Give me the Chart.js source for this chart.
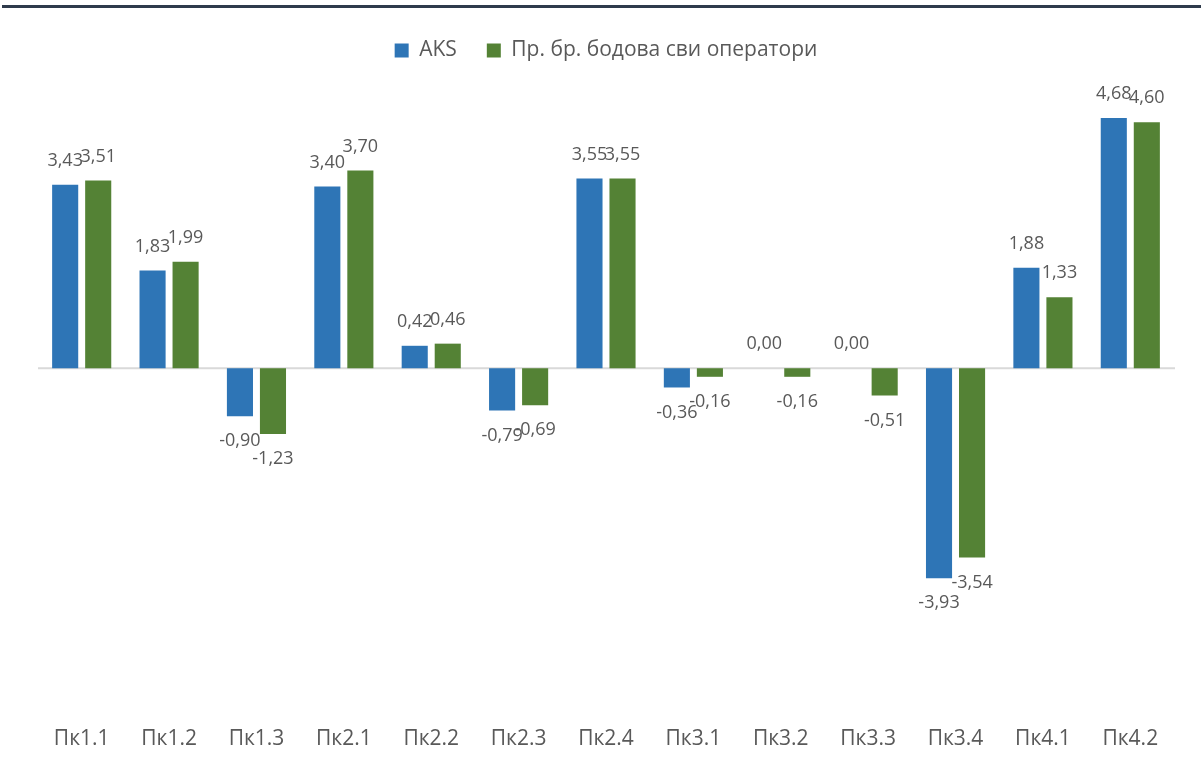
<!DOCTYPE html>
<html>
<head>
<meta charset="utf-8">
<script src="https://cdn.jsdelivr.net/npm/chart.js@4.4.1/dist/chart.umd.min.js"></script>
<style>
  html, body { margin: 0; padding: 0; background: #fff; }
  #wrap { position: relative; width: 1201px; height: 769px; }
  #topline { position: absolute; left: 2px; right: 0; top: 5px; height: 3px; background: #2f3b4c; }
  canvas { position: absolute; left: 0; top: 0; }
</style>
</head>
<body>
<div id="wrap">
  <canvas id="chart" width="1201" height="769"></canvas>
  <div id="topline"></div>
</div>
<script>
// ── Data ─────────────────────────────────────────────────────────────────────
const categories = ['Пк1.1', 'Пк1.2', 'Пк1.3', 'Пк2.1', 'Пк2.2', 'Пк2.3', 'Пк2.4',
                    'Пк3.1', 'Пк3.2', 'Пк3.3', 'Пк3.4', 'Пк4.1', 'Пк4.2'];
const aksValues = [3.43, 1.83, -0.90, 3.40, 0.42, -0.79, 3.55, -0.36, 0.00, 0.00, -3.93, 1.88, 4.68];
const avgValues = [3.51, 1.99, -1.23, 3.70, 0.46, -0.69, 3.55, -0.16, -0.16, -0.51, -3.54, 1.33, 4.60];
const seriesNames = ['AKS', 'Пр. бр. бодова сви оператори'];

const TEXT = '#595959';
const FONT = "'Open Sans', 'Noto Sans', sans-serif";

// ── zero line + value labels ─────────────────────────────────────────────────
const zeroLine = {
  id: 'zeroLine',
  beforeDatasetsDraw(chart) {
    const { ctx, chartArea, scales } = chart;
    const y = scales.y.getPixelForValue(0);
    ctx.save();
    ctx.strokeStyle = '#d9d9d9';
    ctx.lineWidth = 2;
    ctx.beginPath();
    ctx.moveTo(chartArea.left, y);
    ctx.lineTo(chartArea.right + 1, y);
    ctx.stroke();
    ctx.restore();
  }
};

const valueLabels = {
  id: 'valueLabels',
  afterDatasetsDraw(chart) {
    const { ctx } = chart;
    ctx.save();
    ctx.font = '18px ' + FONT;
    ctx.fillStyle = TEXT;
    ctx.textAlign = 'center';
    ctx.textBaseline = 'middle';
    chart.data.datasets.forEach((ds, di) => {
      chart.getDatasetMeta(di).data.forEach((bar, i) => {
        const v = ds.data[i];
        const txt = v.toFixed(2).replace('.', ',');
        const y = v >= 0 ? bar.y - 24 : bar.y + 25;
        ctx.fillText(txt, bar.x, y);
      });
    });
    ctx.restore();
  }
};

new Chart(document.getElementById('chart'), {
  type: 'bar',
  data: {
    labels: categories,
    datasets: [
      { label: seriesNames[0], data: aksValues, backgroundColor: '#2e75b6' },
      { label: seriesNames[1], data: avgValues, backgroundColor: '#548235' }
    ]
  },
  options: {
    responsive: false,
    animation: false,
    devicePixelRatio: 1,
    categoryPercentage: 0.756,
    barPercentage: 0.79,
    layout: { padding: { top: 10, left: 38, right: 27, bottom: 0 } },
    plugins: {
      legend: {
        position: 'top',
        labels: {
          font: { family: FONT, size: 21 },
          color: TEXT,
          boxWidth: 14,
          boxHeight: 14,
          padding: 30
        }
      },
      tooltip: { enabled: false }
    },
    scales: {
      x: {
        grid: { display: false },
        border: { display: false },
        ticks: { color: TEXT, font: { family: FONT, size: 21 }, padding: 29 },
        afterFit(scale) { scale.height = 80; }
      },
      y: {
        display: false,
        min: -6,
        max: 5.56
      }
    }
  },
  plugins: [zeroLine, valueLabels]
});
</script>
</body>
</html>
